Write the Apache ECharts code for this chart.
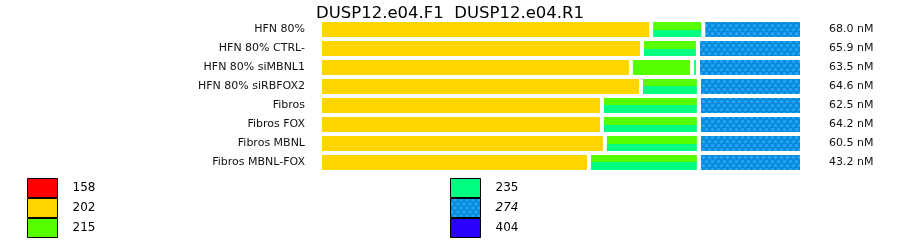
<!DOCTYPE html>
<html><head><meta charset="utf-8">
<script src="https://cdn.jsdelivr.net/npm/echarts@6/dist/echarts.min.js"></script>
<style>html,body{margin:0;padding:0;background:#fff}#c{width:900px;height:242px}</style>
</head><body><div id="c"></div>
<script>
var categories = ['HFN 80%','HFN 80% CTRL-','HFN 80% siMBNL1','HFN 80% siRBFOX2','Fibros','Fibros FOX','Fibros MBNL','Fibros MBNL-FOX'];
var concLabels = ['68.0 nM','65.9 nM','63.5 nM','64.6 nM','62.5 nM','64.2 nM','60.5 nM','43.2 nM'];
// percent of each bar per fragment size
var s202 = [68.7, 66.8, 64.5, 66.6, 58.5, 58.5, 59.1, 55.8];
var sMix = [10.8, 11.6, '-', 12.0, 20.1, 20.1, 19.5, 22.8]; // 215 over 235 split
var s215 = ['-', '-', 12.7, '-', '-', '-', '-', '-'];
var s235 = ['-', '-', 1.2, '-', '-', '-', '-', '-'];
var s274 = [20.5, 21.6, 21.6, 21.4, 21.4, 21.4, 21.4, 21.4];
var s158 = [];
var s404 = [];

var C = {c158:'#ff0000', c202:'#ffd500', c215:'#55ff00', c235:'#00ff80', c274:'#0a8cdc', c404:'#2a00ff'};
var FONT = 'DejaVu Sans';
var chart = echarts.init(document.getElementById('c'), null, {renderer:'canvas'});
var decal274 = {symbol:'circle', color:'#2aaaff', symbolSize:1, dashArrayX:[[3,3],[0,3,3,0]], dashArrayY:[3,1], rotation:0};
function bar(name, data, color, extra){
  var o = {name:name, type:'bar', stack:'t', data:data, barWidth:'100%', barCategoryGap:0,
    itemStyle:{color:color, borderColor:'#fff', borderWidth:2}, silent:true};
  if(extra) for (var k in extra) o.itemStyle[k]=extra[k];
  return o;
}
var legendBase = {orient:'vertical', itemWidth:30, itemHeight:19, itemGap:0, icon:'rect', padding:0, height:70,
  textStyle:{fontFamily:FONT, fontSize:12, color:'#000', padding:[0,0,0,10]},
  itemStyle:{borderColor:'#000', borderWidth:1}, selectedMode:false};
chart.setOption({
  animation:false,
  title:{text:'DUSP12.e04.F1  DUSP12.e04.R1', left:'center', top:0,
    textStyle:{fontFamily:FONT, fontSize:16.5, fontWeight:'normal', color:'#000'}},
  grid:{left:320, right:98, top:20, height:152},
  xAxis:{type:'value', min:0, max:100, show:false},
  yAxis:[
    {type:'category', data:categories, inverse:true, axisLine:{show:false}, axisTick:{show:false},
     axisLabel:{fontFamily:FONT, fontSize:11, color:'#111', margin:15}},
    {type:'category', data:concLabels, inverse:true, position:'right', axisLine:{show:false}, axisTick:{show:false},
     axisLabel:{fontFamily:FONT, fontSize:11, color:'#111', margin:27}}
  ],
  legend:[
    Object.assign({}, legendBase, {left:27, top:178, data:['158','202','215']}),
    Object.assign({}, legendBase, {left:450, top:178, data:['235',{name:'274', textStyle:{fontStyle:'italic'}},'404']})
  ],
  series:[
    bar('158', s158, C.c158),
    bar('202', s202, C.c202),
    bar('mix', sMix, {type:'linear', x:0, y:0, x2:0, y2:1, colorStops:[
      {offset:0, color:C.c215},{offset:0.5, color:C.c215},{offset:0.5, color:C.c235},{offset:1, color:C.c235}]}),
    bar('215', s215, C.c215),
    bar('235', s235, C.c235),
    bar('274', s274, C.c274, {decal:decal274}),
    bar('404', s404, C.c404)
  ]
});
</script></body></html>
